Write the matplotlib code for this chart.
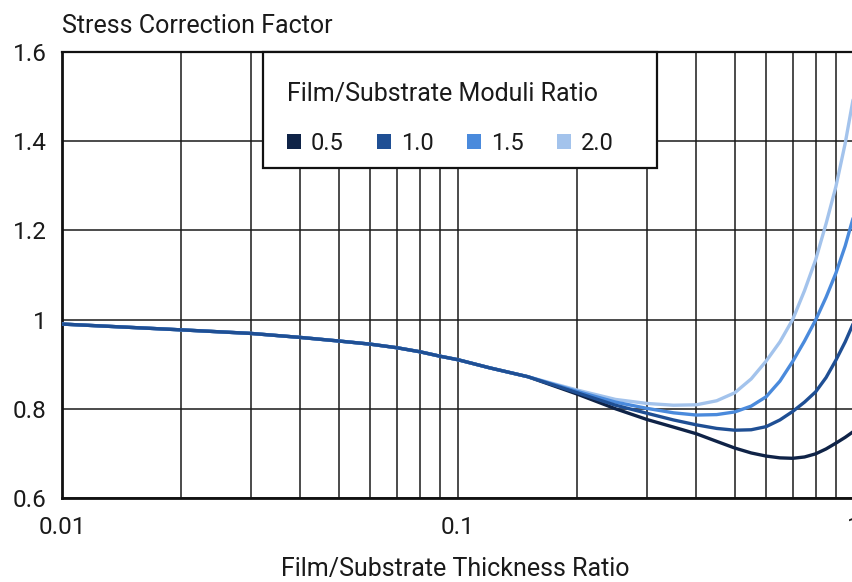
import matplotlib
matplotlib.use("Agg")
import matplotlib.pyplot as plt
from matplotlib.patches import Patch, Rectangle

plt.rcParams['font.family'] = ['Roboto', 'DejaVu Sans']

thickness_ratio = [0.01, 0.02, 0.03, 0.04, 0.05, 0.06, 0.07, 0.08, 0.09, 0.1,
                   0.12, 0.15, 0.2, 0.25, 0.3, 0.35, 0.4, 0.45, 0.5, 0.55,
                   0.6, 0.65, 0.7, 0.75, 0.8, 0.85, 0.9, 0.95, 1.0]
shared = [0.990, 0.977, 0.969, 0.960, 0.952, 0.945, 0.937, 0.928, 0.918, 0.910,
          0.892, 0.872]
factor_05 = shared + [0.833, 0.800, 0.776, 0.759, 0.744, 0.727, 0.712, 0.701,
                      0.694, 0.690, 0.689, 0.692, 0.699, 0.710, 0.723, 0.736, 0.750]
factor_10 = shared + [0.836, 0.808, 0.790, 0.775, 0.764, 0.756, 0.752, 0.753,
                      0.760, 0.775, 0.794, 0.815, 0.838, 0.870, 0.909, 0.950, 0.995]
factor_15 = shared + [0.839, 0.815, 0.801, 0.791, 0.786, 0.787, 0.793, 0.806,
                      0.827, 0.862, 0.906, 0.952, 0.999, 1.050, 1.104, 1.165, 1.235]
factor_20 = shared + [0.842, 0.821, 0.812, 0.808, 0.809, 0.818, 0.836, 0.867,
                      0.907, 0.950, 1.000, 1.065, 1.134, 1.215, 1.298, 1.395, 1.505]

ratio_labels = ['0.5', '1.0', '1.5', '2.0']
colors = ['#0f2347', '#1f4f94', '#4a8adc', '#a3c3ec']
series = [factor_05, factor_10, factor_15, factor_20]

x_ticks = [0.01, 0.1, 1]
x_tick_labels = ['0.01', '0.1', '1']
y_ticks = [0.6, 0.8, 1.0, 1.2, 1.4, 1.6]
y_tick_labels = ['0.6', '0.8', '1', '1.2', '1.4', '1.6']

W, H = 852, 582
fig = plt.figure(figsize=(W / 100, H / 100), dpi=100)
ax = fig.add_axes([62 / W, 1 - 498 / H, (854 - 62) / W, (498 - 52) / H])

order = [0, 3, 2, 1]
for i in order:
    ax.plot(thickness_ratio, series[i], color=colors[i], lw=2.4, zorder=3,
            solid_capstyle='round', solid_joinstyle='round')

ax.set_xscale('log')
ax.set_xlim(0.01, 1)
ax.set_ylim(0.6, 1.6)
ax.set_xticks(x_ticks)
ax.set_xticklabels(x_tick_labels)
ax.set_yticks(y_ticks)
ax.set_yticklabels(y_tick_labels)
ax.minorticks_on()
ax.yaxis.set_minor_locator(matplotlib.ticker.NullLocator())
ax.tick_params(axis='both', which='both', length=0, labelsize=17.5, colors='#1a1a1a')
ax.tick_params(axis='x', pad=13)
ax.tick_params(axis='y', pad=11)
ax.grid(True, which='both', color='#1a1a1a', lw=1.1, zorder=1)
ax.set_axisbelow(True)

for side in ['left', 'bottom']:
    ax.spines[side].set_linewidth(2.0)
    ax.spines[side].set_color('#111111')
ax.spines['top'].set_linewidth(1.6)
ax.spines['top'].set_color('#111111')
ax.spines['right'].set_visible(False)

fig.text(62 / W, 1 - 26 / H, 'Stress Correction Factor', fontsize=18,
         va='center', ha='left', color='#1a1a1a')
fig.text(455 / W, 1 - 569 / H, 'Film/Substrate Thickness Ratio',
         fontsize=18, va='center', ha='center', color='#1a1a1a')

# legend frame
ax.add_patch(Rectangle(((263 - 62) / 792, (498 - 168) / 446), (657 - 263) / 792,
                       (168 - 52) / 446, transform=ax.transAxes, facecolor='white',
                       edgecolor='#111111', lw=1.6, zorder=4, clip_on=False))
handles = [Patch(facecolor=c, edgecolor='none') for c in colors]
leg = ax.legend(handles, ratio_labels, title='Film/Substrate Moduli Ratio', ncol=4,
                loc='upper left', bbox_to_anchor=(287 / W, 1 - 82 / H),
                bbox_transform=fig.transFigure, frameon=False, borderpad=0,
                fontsize=17, title_fontsize=18, handlelength=0.6, handleheight=0.6,
                handletextpad=0.42, columnspacing=1.4, labelspacing=1.1,
                alignment='left', borderaxespad=0)
leg.set_zorder(5)
for t in leg.get_texts():
    t.set_color('#1a1a1a')
leg.get_title().set_color('#1a1a1a')

fig.savefig('out.png', dpi=100)
